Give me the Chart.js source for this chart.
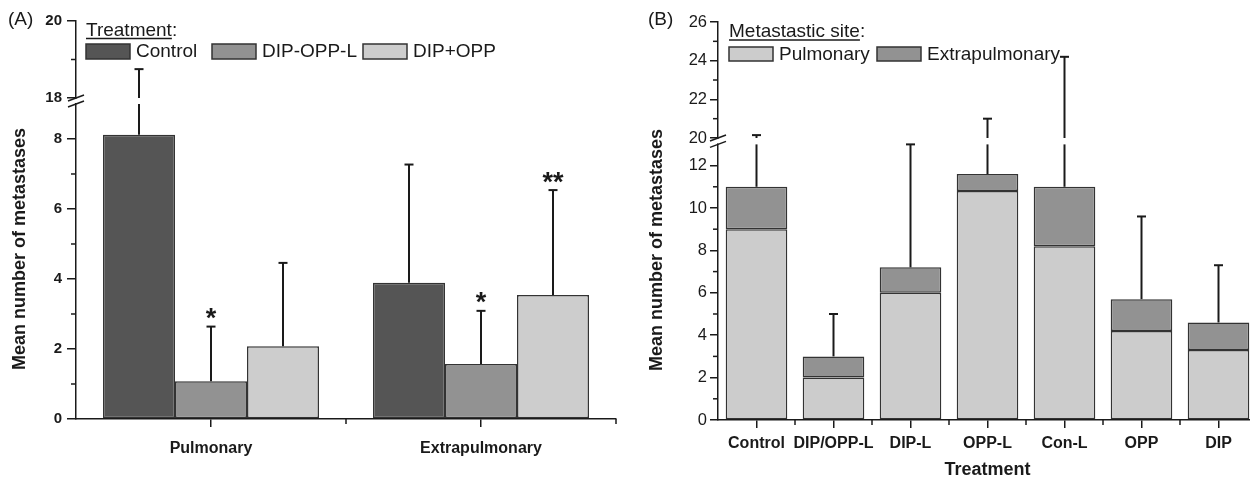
<!DOCTYPE html>
<html>
<head>
<meta charset="utf-8">
<script src="https://cdn.jsdelivr.net/npm/chart.js@4.4.1/dist/chart.umd.min.js"></script>
<style>
  html, body { margin: 0; padding: 0; background: #fff; overflow: hidden; }
  #wrap { position: relative; width: 1280px; height: 479px; }
  #chartA { position: absolute; left: 0; top: 0; }
  #chartB { position: absolute; left: 640px; top: 0; }
</style>
</head>
<body>
<div id="wrap">
  <canvas id="chartA" width="640" height="479"></canvas>
  <canvas id="chartB" width="640" height="479"></canvas>
</div>
<script>
/* ====== DATA – PANEL A ====== */
const sitesA = ["Pulmonary", "Extrapulmonary"];
const controlA = [8.12, 3.89];
const dipOppLA = [1.08, 1.57];
const dipPlusOppA = [2.08, 3.54];
const controlErrA = [18.75, 7.27];
const dipOppLErrA = [2.64, 3.09];
const dipPlusOppErrA = [4.46, 6.54];
const dipOppLSigA = ["*", "*"];
const dipPlusOppSigA = ["", "**"];
const ticksA = [0, 2, 4, 6, 8, 18, 20];
const minorTicksA = [1, 3, 5, 7, 19];

/* ====== DATA – PANEL B ====== */
const treatmentsB = ["Control", "DIP/OPP-L", "DIP-L", "OPP-L", "Con-L", "OPP", "DIP"];
const pulmonaryB = [9.0, 2.0, 6.0, 10.8, 8.2, 4.2, 3.3];
const extrapulmonaryB = [2.0, 1.0, 1.2, 0.8, 2.8, 1.5, 1.3];
const totalErrB = [20.15, 5.0, 13.0, 21.0, 24.2, 9.6, 7.3];
const ticksB = [0, 2, 4, 6, 8, 10, 12, 20, 22, 24, 26];
const minorTicksB = [1, 3, 5, 7, 9, 11, 21, 23, 25];

const FONT = "'Liberation Sans', Arial, sans-serif";
const INK = "#1a1a1a";

/* ====== BROKEN Y AXIS ====== */
const breaks = {
    chartA: { lowMax: 9, highMin: 18, lowFrac: 0.7915, highFrac: 0.8065, major: ticksA, minor: minorTicksA },
    chartB: { lowMax: 13, highMin: 20, lowFrac: 0.6925, highFrac: 0.7085, major: ticksB, minor: minorTicksB }
};

class BrokenScale extends Chart.LinearScale {
    _brk() { return breaks[this.chart.canvas.id]; }
    _fold(v) {
        const b = this._brk();
        if (v <= b.lowMax) return (v - this.min) / (b.lowMax - this.min) * b.lowFrac;
        if (v >= b.highMin) return b.highFrac + (v - b.highMin) / (this.max - b.highMin) * (1 - b.highFrac);
        return b.lowFrac + (v - b.lowMax) / (b.highMin - b.lowMax) * (b.highFrac - b.lowFrac);
    }
    buildTicks() {
        return this._brk().major.map(v => ({ value: v }));
    }
    getPixelForValue(v) {
        return this.getPixelForDecimal(this._fold(v));
    }
    getValueForPixel(p) {
        const b = this._brk();
        const d = this.getDecimalForPixel(p);
        if (d <= b.lowFrac) return this.min + d / b.lowFrac * (b.lowMax - this.min);
        if (d >= b.highFrac) return b.highMin + (d - b.highFrac) / (1 - b.highFrac) * (this.max - b.highMin);
        return b.lowMax + (d - b.lowFrac) / (b.highFrac - b.lowFrac) * (b.highMin - b.lowMax);
    }
}
BrokenScale.id = "broken";
BrokenScale.defaults = Chart.LinearScale.defaults;
Chart.register(BrokenScale);

/* ====== EXTRAS: minor ticks, breaks, error bars, stars, legend, labels ====== */
function line(ctx, x1, y1, x2, y2) {
    ctx.beginPath();
    ctx.moveTo(x1, y1);
    ctx.lineTo(x2, y2);
    ctx.stroke();
}

const extras = {
    id: "extras",
    afterDraw(chart, args, o) {
        const ctx = chart.ctx;
        const xs = chart.scales.x, ys = chart.scales.y;
        const b = breaks[chart.canvas.id];
        const area = chart.chartArea;
        ctx.save();
        ctx.strokeStyle = INK;
        ctx.fillStyle = INK;
        ctx.lineWidth = 1.5;

        // minor ticks
        b.minor.forEach(v => {
            const py = ys.getPixelForValue(v);
            line(ctx, area.left, py, area.left - 5, py);
        });
        for (let i = 1; i <= xs.ticks.length; i++) {
            const px = xs.getPixelForValue(i - 0.5);
            line(ctx, px, area.bottom, px, area.bottom + 5);
        }

        // axis break
        const yHi = ys.getPixelForValue(b.highMin), yLo = ys.getPixelForValue(b.lowMax);
        ctx.fillStyle = "#fff";
        ctx.fillRect(area.left - 3, yHi + 1, 6, yLo - yHi - 2);
        ctx.fillStyle = INK;
        line(ctx, area.left - 8, yHi + 3, area.left + 8, yHi - 3);
        line(ctx, area.left - 8, yLo + 3, area.left + 8, yLo - 3);

        // error bars and significance marks
        chart.data.datasets.forEach((ds, di) => {
            if (!ds.errors) return;
            const meta = chart.getDatasetMeta(di);
            ds.errors.forEach((err, j) => {
                const bar = meta.data[j];
                const bx = bar.x, by = bar.y;
                const yTop = ys.getPixelForValue(err);
                ctx.lineWidth = 2;
                if (err > b.highMin) {
                    line(ctx, bx, by, bx, yLo);
                    line(ctx, bx, yHi, bx, yTop);
                } else {
                    line(ctx, bx, by, bx, yTop);
                }
                line(ctx, bx - 4.5, yTop, bx + 4.5, yTop);
                const star = ds.stars ? ds.stars[j] : "";
                if (star) {
                    ctx.font = "bold 27px " + FONT;
                    ctx.textAlign = "center";
                    ctx.textBaseline = "alphabetic";
                    const m = ctx.measureText(star);
                    const center = yTop - 13;
                    const base = center - (m.actualBoundingBoxDescent - m.actualBoundingBoxAscent) / 2;
                    ctx.fillText(star, bx, base);
                }
            });
        });

        // panel label
        ctx.font = "19px " + FONT;
        ctx.textAlign = "left";
        ctx.textBaseline = "middle";
        ctx.fillText(o.panel, 8, 20);

        // y title
        ctx.save();
        ctx.translate(o.yTitleX, o.yTitleY);
        ctx.rotate(-Math.PI / 2);
        ctx.font = "bold 18px " + FONT;
        ctx.textAlign = "center";
        ctx.fillText("Mean number of metastases", 0, 0);
        ctx.restore();

        // legend
        const lg = o.legend;
        ctx.font = "19px " + FONT;
        ctx.textAlign = "left";
        ctx.textBaseline = "middle";
        ctx.fillText(lg.title + ":", lg.x, lg.titleY);
        const uw = ctx.measureText(lg.title).width;
        ctx.lineWidth = 1.5;
        line(ctx, lg.x, lg.underY, lg.x + uw, lg.underY);
        chart.data.datasets.forEach((ds, di) => {
            const bxl = lg.items[di];
            ctx.fillStyle = ds.backgroundColor;
            ctx.fillRect(bxl, lg.boxY, 44, lg.boxH);
            ctx.strokeStyle = "#333";
            ctx.lineWidth = 1.5;
            ctx.strokeRect(bxl, lg.boxY, 44, lg.boxH);
            ctx.fillStyle = INK;
            ctx.fillText(ds.label, bxl + 50, lg.boxY + lg.boxH / 2 + 0.5);
        });
        ctx.restore();
    }
};

/* ====== PANEL A ====== */
new Chart(document.getElementById("chartA"), {
    type: "bar",
    plugins: [extras],
    data: {
        labels: sitesA,
        datasets: [
            { label: "Control", data: controlA, backgroundColor: "#555555", errors: controlErrA },
            { label: "DIP-OPP-L", data: dipOppLA, backgroundColor: "#929292", errors: dipOppLErrA, stars: dipOppLSigA },
            { label: "DIP+OPP", data: dipPlusOppA, backgroundColor: "#cdcdcd", errors: dipPlusOppErrA, stars: dipPlusOppSigA }
        ]
    },
    options: {
        responsive: false,
        animation: false,
        layout: { padding: { left: 0, top: 21, right: 24, bottom: 0 } },
        datasets: {
            bar: {
                borderColor: "#333333",
                borderWidth: 1.5,
                borderSkipped: false,
                categoryPercentage: 0.8,
                barPercentage: 1.0
            }
        },
        plugins: {
            legend: { display: false },
            tooltip: { enabled: false },
            extras: {
                panel: "(A)", yTitleX: 20, yTitleY: 249,
                legend: { title: "Treatment", x: 86, titleY: 31, underY: 38.5, boxY: 44, boxH: 15, items: [86, 212, 363] }
            }
        },
        scales: {
            x: {
                offset: true,
                afterFit: s => { s.height = 60; },
                grid: { offset: false, drawOnChartArea: false, tickLength: 8, color: INK, lineWidth: 1.5 },
                border: { display: true, color: INK, width: 1.5 },
                ticks: { autoSkip: false, maxRotation: 0, padding: 12, color: INK, font: { family: FONT, size: 16, weight: "bold" } }
            },
            y: {
                type: "broken",
                min: 0,
                max: 20,
                afterFit: s => { s.width = 76; },
                grid: { drawOnChartArea: false, tickLength: 9, color: INK, lineWidth: 1.5 },
                border: { display: true, color: INK, width: 1.5 },
                ticks: { padding: 5, color: INK, font: { family: FONT, size: 15, weight: "bold" }, callback: v => String(v) }
            }
        }
    }
});

/* ====== PANEL B ====== */
new Chart(document.getElementById("chartB"), {
    type: "bar",
    plugins: [extras],
    data: {
        labels: treatmentsB,
        datasets: [
            { label: "Pulmonary", data: pulmonaryB, backgroundColor: "#cccccc" },
            { label: "Extrapulmonary", data: extrapulmonaryB, backgroundColor: "#929292", errors: totalErrB }
        ]
    },
    options: {
        responsive: false,
        animation: false,
        layout: { padding: { left: 0, top: 22, right: 23, bottom: 0 } },
        datasets: {
            bar: {
                borderColor: "#333333",
                borderWidth: 1.5,
                borderSkipped: false,
                categoryPercentage: 0.8,
                barPercentage: 1.0
            }
        },
        plugins: {
            legend: { display: false },
            tooltip: { enabled: false },
            extras: {
                panel: "(B)", yTitleX: 17, yTitleY: 250,
                legend: { title: "Metastastic site", x: 89, titleY: 32, underY: 40, boxY: 47, boxH: 14, items: [89, 237] }
            }
        },
        scales: {
            x: {
                stacked: true,
                offset: true,
                afterFit: s => { s.height = 59; },
                grid: { offset: false, drawOnChartArea: false, tickLength: 8, color: INK, lineWidth: 1.5 },
                border: { display: true, color: INK, width: 1.5 },
                ticks: { autoSkip: false, maxRotation: 0, padding: 6, color: INK, font: { family: FONT, size: 16, weight: "bold" } },
                title: { display: true, text: "Treatment", color: INK, padding: 0, font: { family: FONT, size: 18, weight: "bold", lineHeight: 1.0 } }
            },
            y: {
                type: "broken",
                stacked: true,
                min: 0,
                max: 26,
                afterFit: s => { s.width = 78; },
                grid: { drawOnChartArea: false, tickLength: 8, color: INK, lineWidth: 1.5 },
                border: { display: true, color: INK, width: 1.5 },
                ticks: { padding: 3, color: INK, font: { family: FONT, size: 16.5 }, callback: v => String(v) }
            }
        }
    }
});
</script>
</body>
</html>
